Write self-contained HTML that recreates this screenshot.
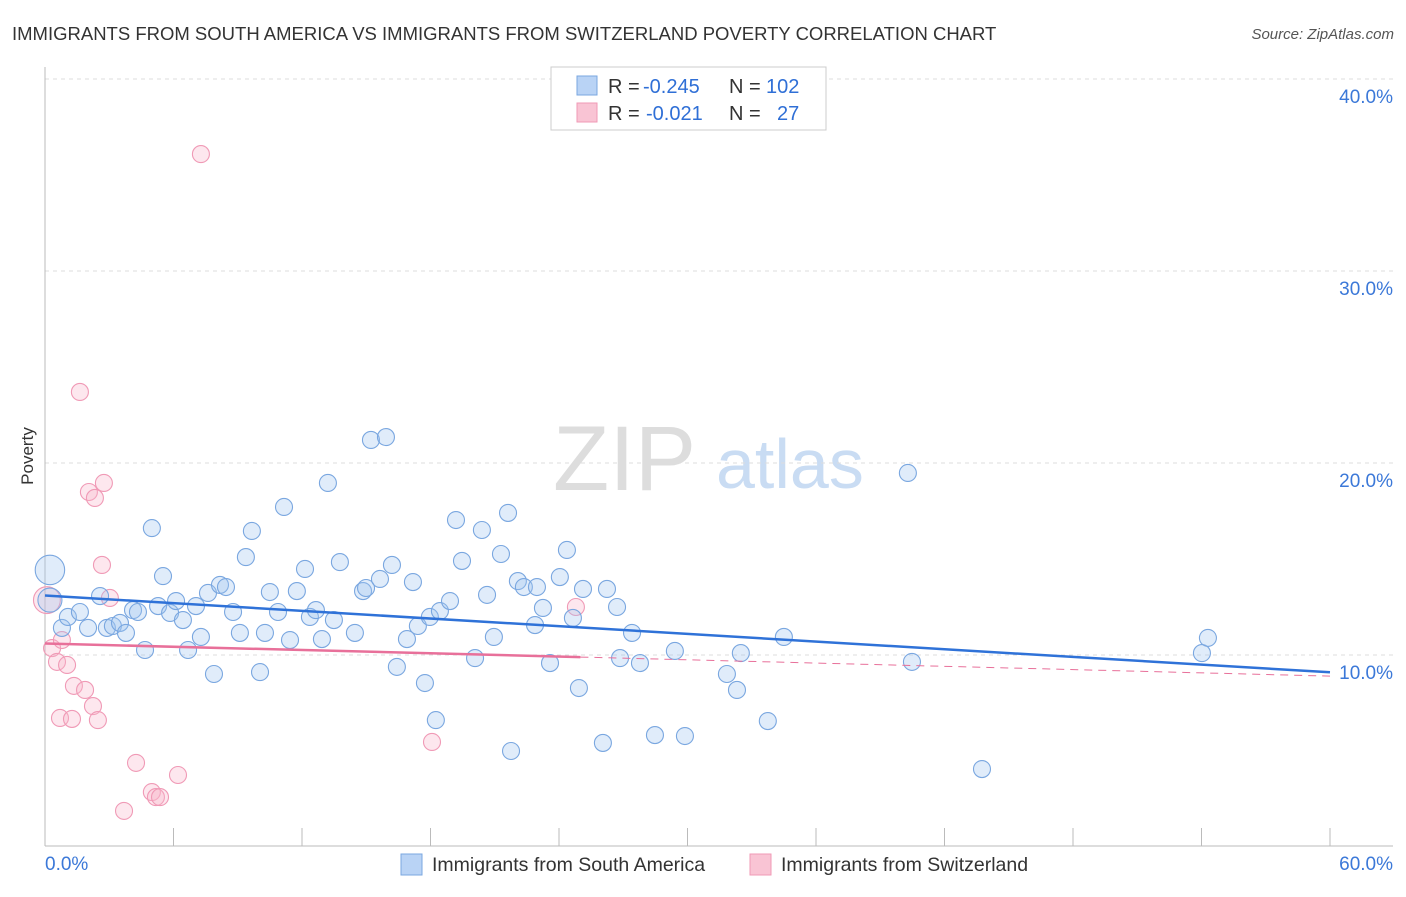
<!DOCTYPE html>
<html><head><meta charset="utf-8"><style>
body{margin:0;background:#fff;font-family:"Liberation Sans",sans-serif;}
svg text{font-family:"Liberation Sans",sans-serif;}
</style></head><body>
<svg id="chart" width="1406" height="892" xmlns="http://www.w3.org/2000/svg">
<text x="12" y="40" font-size="18.5" fill="#333">IMMIGRANTS FROM SOUTH AMERICA VS IMMIGRANTS FROM SWITZERLAND POVERTY CORRELATION CHART</text>
<text x="1394" y="39" font-size="15" fill="#555" font-style="italic" text-anchor="end">Source: ZipAtlas.com</text>
<g>
<text x="553" y="490" font-family="Liberation Serif" font-size="92" fill="#ddd">ZIP</text>
<text x="716" y="488" font-size="70" fill="#c9dcf3">atlas</text>
</g>
<g id="grid"></g>
<g id="axes"></g>
<g id="marks"></g>
<text transform="translate(33,456) rotate(-90)" font-size="17" fill="#333" text-anchor="middle">Poverty</text>
<g>
<rect x="551" y="67" width="275" height="63" fill="#fff" stroke="#ccc"/>
<rect x="577" y="76" width="20" height="19" fill="#b9d3f5" stroke="#7aa7e0"/>
<rect x="577" y="103" width="20" height="19" fill="#f9c4d4" stroke="#f09ab6"/>
<text x="608" y="93" font-size="20" fill="#333">R =</text>
<text x="643" y="93" font-size="20" fill="#2f6fd6">-0.245</text>
<text x="729" y="93" font-size="20" fill="#333">N =</text>
<text x="766" y="93" font-size="20" fill="#2f6fd6">102</text>
<text x="608" y="120" font-size="20" fill="#333">R =</text>
<text x="646" y="120" font-size="20" fill="#2f6fd6">-0.021</text>
<text x="729" y="120" font-size="20" fill="#333">N =</text>
<text x="777" y="120" font-size="20" fill="#2f6fd6">27</text>
</g>
<g>
<rect x="401" y="854" width="21" height="21" fill="#b9d3f5" stroke="#7aa7e0"/>
<text x="432" y="871" font-size="19.5" fill="#333">Immigrants from South America</text>
<rect x="750" y="854" width="21" height="21" fill="#f9c4d4" stroke="#f09ab6"/>
<text x="781" y="871" font-size="19.5" fill="#333">Immigrants from Switzerland</text>
</g>
</svg>
<script>
const blueX=[0.23,0.23,0.79,1.07,1.63,2.01,2.57,2.89,3.17,3.50,3.78,4.11,4.34,4.67,4.99,5.28,5.51,5.84,6.12,6.44,6.68,7.05,7.28,7.61,7.89,8.17,8.45,8.78,9.10,9.38,9.66,10.04,10.27,10.50,10.88,11.16,11.44,11.76,12.14,12.37,12.65,12.93,13.21,13.49,13.77,14.47,14.85,14.99,15.22,15.64,15.92,16.20,16.43,16.90,17.18,17.41,17.74,17.97,18.25,18.44,18.91,19.19,19.47,20.08,20.40,20.64,20.96,21.29,21.62,21.76,22.08,22.36,22.88,22.97,23.25,23.58,24.04,24.37,24.65,24.93,25.12,26.05,26.24,26.71,26.85,27.41,27.78,28.48,29.41,29.88,31.84,32.31,32.49,33.75,34.50,40.29,40.48,43.75,54.02,54.30];
const blueY=[14.43,12.86,11.41,11.98,12.24,11.41,13.07,11.41,11.51,11.67,11.15,12.34,12.24,10.26,16.61,12.55,14.11,12.19,12.81,11.82,10.26,12.55,10.94,13.23,9.01,13.65,13.54,12.24,11.15,15.10,16.46,9.11,11.15,13.28,12.24,17.71,10.78,13.33,14.48,11.98,12.34,10.83,18.96,11.82,14.84,11.15,13.33,13.49,21.20,13.96,21.35,14.69,9.38,10.83,13.80,11.51,8.54,11.98,6.61,12.29,12.81,17.03,14.90,9.84,16.51,13.13,10.94,15.26,17.40,5.00,13.85,13.54,11.56,13.54,12.45,9.58,14.06,15.47,11.93,8.28,13.44,5.42,13.44,12.50,9.84,11.15,9.58,5.83,10.21,5.78,9.01,8.18,10.10,6.56,10.94,19.48,9.64,4.06,10.10,10.89];
const blueWeight=[3,2];
const pinkX=[0.09,0.33,0.56,0.79,1.03,0.70,1.26,1.35,1.63,1.87,2.05,2.24,2.33,2.47,2.66,2.75,3.03,3.69,4.25,4.99,5.18,5.37,6.21,7.28,18.07,24.79];
const pinkY=[12.86,10.36,9.64,10.78,9.48,6.72,6.67,8.39,23.70,8.18,18.49,7.34,18.18,6.61,14.69,18.96,12.97,1.88,4.38,2.86,2.60,2.60,3.75,36.09,5.47,12.50];
const pinkWeight=[2.5];
const blueTrend=[13.1,9.1];
const pinkTrend=[10.6,8.9];
const pinkSolidEnd=25;
const yTicks=[10,20,30,40];
const yTickLabels=["10.0%","20.0%","30.0%","40.0%"];
const xTicks=[0,6,12,18,24,30,36,42,48,54,60];

const NS="http://www.w3.org/2000/svg";
const sx=v=>45+v*(1285/60);
const sy=v=>847-v*19.2;
function mk(tag,attrs,parent){const e=document.createElementNS(NS,tag);for(const k in attrs)e.setAttribute(k,attrs[k]);parent.appendChild(e);return e;}
const grid=document.getElementById('grid'),axes=document.getElementById('axes'),marks=document.getElementById('marks');
yTicks.forEach((t,i)=>{
  const l=mk('line',{x1:45,x2:1393,y1:sy(t),y2:sy(t),stroke:'#ddd','stroke-dasharray':'4,4'},grid);
  
  
  const tx=mk('text',{x:1393,y:sy(t)+24,'font-size':19,fill:'#3b78d8','text-anchor':'end'},axes);
  tx.textContent=yTickLabels[i];
  
  
});
const ya=mk('line',{x1:45,x2:45,y1:67,y2:846,stroke:'#bbb'},axes);


const xa=mk('line',{x1:45,x2:1393,y1:846,y2:846,stroke:'#bbb'},axes);


xTicks.forEach(t=>{
  const l=mk('line',{x1:sx(t),x2:sx(t),y1:828,y2:846,stroke:'#bbb'},axes);
  
  
});
const xl0=mk('text',{x:45,y:870,'font-size':19,fill:'#3b78d8'},axes);xl0.textContent='0.0%';


const xl1=mk('text',{x:1393,y:870,'font-size':19,fill:'#3b78d8','text-anchor':'end'},axes);xl1.textContent='60.0%';



pinkX.forEach((x,i)=>{
  const c=mk('circle',{cx:sx(x),cy:sy(pinkY[i]),r:8.5*(pinkWeight[i]?Math.sqrt(pinkWeight[i]):1),fill:'rgba(248,180,202,0.32)',stroke:'#f09ab6','stroke-width':1.1},marks);
  
  
});
blueX.forEach((x,i)=>{
  const c=mk('circle',{cx:sx(x),cy:sy(blueY[i]),r:8.5*(blueWeight[i]?Math.sqrt(blueWeight[i]):1),fill:'rgba(160,196,240,0.32)',stroke:'#7aa7e0','stroke-width':1.1},marks);
  
  
});
const pv=x=>pinkTrend[0]+(pinkTrend[1]-pinkTrend[0])*x/60;
const pd=mk('line',{x1:sx(pinkSolidEnd),y1:sy(pv(pinkSolidEnd)),x2:sx(60),y2:sy(pinkTrend[1]),stroke:'#e8709a','stroke-width':1,'stroke-dasharray':'8,6'},marks);


const ps=mk('line',{x1:sx(0),y1:sy(pinkTrend[0]),x2:sx(pinkSolidEnd),y2:sy(pv(pinkSolidEnd)),stroke:'#e8709a','stroke-width':2.5},marks);


const bl=mk('line',{x1:sx(0),y1:sy(blueTrend[0]),x2:sx(60),y2:sy(blueTrend[1]),stroke:'#2f72d8','stroke-width':2.5},marks);


</script>
</body></html>
